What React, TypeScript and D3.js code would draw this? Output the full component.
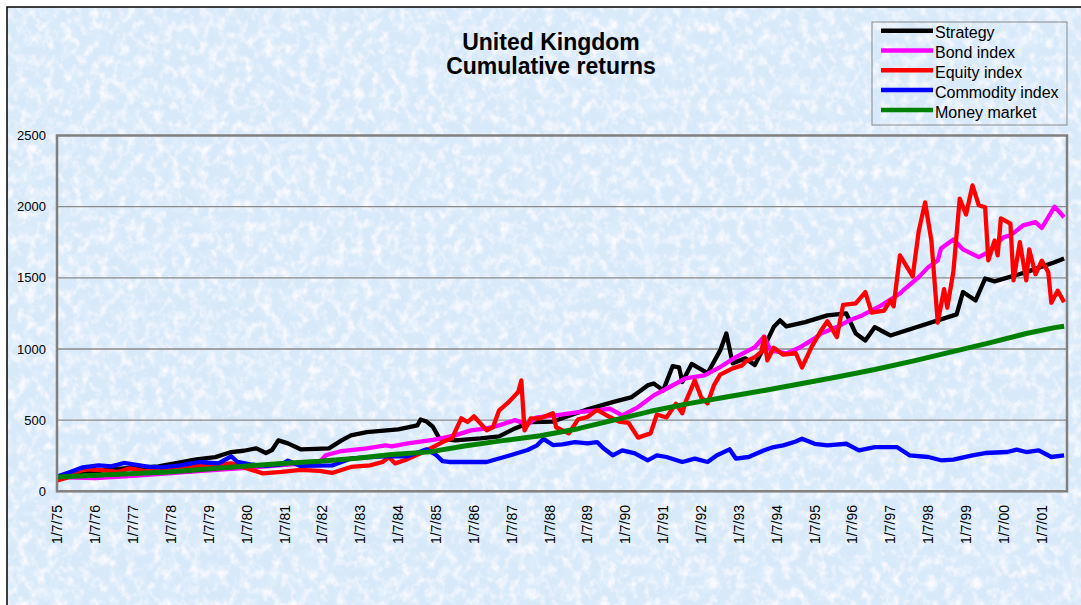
import React, { useEffect, useRef } from 'react';
import * as d3 from 'd3';

// values (month, cumulative value)
const strategy: [string, number][] = [
  ["1975-07", 100], ["1976-03", 120], ["1976-11", 154], ["1977-07", 165], ["1978-03", 175], ["1978-09", 200],
  ["1979-03", 225], ["1979-09", 240], ["1980-02", 276], ["1980-06", 285], ["1980-10", 302], ["1981-01", 269],
  ["1981-03", 290], ["1981-05", 358], ["1981-08", 337], ["1981-12", 295], ["1982-05", 298], ["1982-09", 302],
  ["1983-01", 358], ["1983-04", 393], ["1983-09", 416], ["1984-07", 435], ["1985-01", 463], ["1985-02", 505],
  ["1985-04", 490], ["1985-06", 452], ["1985-08", 372], ["1986-01", 358], ["1986-09", 372], ["1987-03", 386],
  ["1987-08", 442], ["1988-01", 487], ["1988-08", 490], ["1989-07", 576], ["1990-03", 627], ["1990-09", 662],
  ["1991-02", 744], ["1991-04", 758], ["1991-07", 709], ["1991-10", 880], ["1991-12", 871], ["1992-01", 768],
  ["1992-04", 895], ["1992-09", 830], ["1993-01", 990], ["1993-03", 1109], ["1993-05", 899], ["1993-09", 934],
  ["1993-12", 887], ["1994-03", 1013], ["1994-06", 1154], ["1994-08", 1201], ["1994-10", 1159], ["1995-04", 1189],
  ["1995-11", 1236], ["1996-05", 1250], ["1996-08", 1109], ["1996-11", 1060], ["1997-02", 1154], ["1997-04", 1130],
  ["1997-07", 1095], ["1999-04", 1243], ["1999-06", 1400], ["1999-10", 1341], ["2000-01", 1495], ["2000-04", 1475],
  ["2001-02", 1540], ["2001-11", 1610], ["2002-02", 1636],
];

const bondIndex: [string, number][] = [
  ["1975-07", 100], ["1976-07", 92], ["1977-07", 108], ["1978-07", 128], ["1979-07", 148], ["1980-07", 165],
  ["1981-07", 185], ["1982-06", 205], ["1982-08", 253], ["1983-01", 283], ["1983-09", 302], ["1984-03", 323],
  ["1984-05", 316], ["1984-10", 337], ["1985-06", 362], ["1986-01", 393], ["1986-06", 428], ["1986-11", 442],
  ["1987-03", 463], ["1987-08", 500], ["1987-12", 470], ["1988-03", 520], ["1988-09", 534], ["1989-04", 557],
  ["1989-10", 569], ["1990-02", 580], ["1990-06", 534], ["1990-11", 592], ["1991-04", 674], ["1991-09", 733],
  ["1992-02", 793], ["1992-08", 815], ["1993-01", 873], ["1993-06", 943], ["1993-12", 1013], ["1994-03", 1088],
  ["1994-05", 990], ["1994-10", 969], ["1995-02", 1008], ["1995-07", 1074], ["1995-09", 1109], ["1996-02", 1154],
  ["1996-06", 1201], ["1996-10", 1236], ["1997-01", 1271], ["1997-04", 1305], ["1997-10", 1390], ["1997-11", 1411],
  ["1998-04", 1505], ["1998-07", 1575], ["1998-10", 1622], ["1998-11", 1706], ["1999-03", 1770], ["1999-06", 1700],
  ["1999-11", 1645], ["2000-02", 1680], ["2000-04", 1727], ["2000-07", 1786], ["2000-09", 1798], ["2001-01", 1868],
  ["2001-05", 1891], ["2001-07", 1850], ["2001-11", 2000], ["2002-02", 1926],
];

const equityIndex: [string, number][] = [
  ["1975-07", 77], ["1975-10", 95], ["1976-03", 154], ["1976-08", 150], ["1977-02", 136], ["1977-06", 161],
  ["1977-11", 140], ["1978-06", 150], ["1979-03", 176], ["1980-02", 196], ["1980-09", 147], ["1980-12", 126],
  ["1981-06", 136], ["1981-12", 150], ["1982-06", 143], ["1982-10", 129], ["1983-04", 171], ["1983-10", 182],
  ["1984-02", 206], ["1984-04", 241], ["1984-06", 196], ["1984-09", 218], ["1985-03", 276], ["1985-06", 311],
  ["1985-09", 346], ["1985-12", 372], ["1986-03", 513], ["1986-05", 487], ["1986-07", 527], ["1986-11", 428],
  ["1987-01", 450], ["1987-03", 569], ["1987-06", 627], ["1987-09", 697], ["1987-10", 779], ["1987-11", 428],
  ["1988-01", 513], ["1988-04", 513], ["1988-08", 548], ["1988-09", 450], ["1989-01", 407], ["1989-04", 505],
  ["1989-07", 522], ["1989-10", 572], ["1990-02", 522], ["1990-05", 490], ["1990-08", 480], ["1990-11", 377],
  ["1991-03", 407], ["1991-05", 540], ["1991-08", 518], ["1991-11", 615], ["1992-01", 548], ["1992-02", 627],
  ["1992-05", 779], ["1992-07", 660], ["1992-09", 618], ["1992-11", 744], ["1993-01", 820], ["1993-05", 864],
  ["1993-08", 885], ["1993-09", 910], ["1993-12", 943], ["1994-02", 980], ["1994-03", 1083], ["1994-04", 920],
  ["1994-06", 1008], ["1994-09", 960], ["1995-01", 970], ["1995-03", 870], ["1995-06", 1013], ["1995-09", 1130],
  ["1995-11", 1195], ["1996-02", 1083], ["1996-04", 1310], ["1996-08", 1320], ["1996-11", 1400], ["1997-01", 1255],
  ["1997-05", 1270], ["1997-07", 1341], ["1997-08", 1300], ["1997-10", 1657], ["1998-02", 1510], ["1998-04", 1830],
  ["1998-06", 2030], ["1998-08", 1760], ["1998-10", 1185], ["1998-12", 1420], ["1999-01", 1290], ["1999-03", 1545],
  ["1999-05", 2057], ["1999-07", 1945], ["1999-09", 2149], ["1999-11", 2010], ["2000-01", 1996], ["2000-02", 1622],
  ["2000-04", 1762], ["2000-05", 1658], ["2000-06", 1917], ["2000-09", 1880], ["2000-10", 1482], ["2000-12", 1750],
  ["2001-02", 1482], ["2001-03", 1700], ["2001-05", 1525], ["2001-07", 1620], ["2001-09", 1540], ["2001-10", 1325],
  ["2001-12", 1410], ["2002-02", 1329],
];

const commodityIndex: [string, number][] = [
  ["1975-07", 105], ["1975-11", 136], ["1976-03", 168], ["1976-08", 182], ["1976-12", 175], ["1977-04", 199],
  ["1977-09", 182], ["1977-12", 171], ["1978-04", 168], ["1978-10", 182], ["1979-04", 206], ["1979-10", 196],
  ["1980-02", 246], ["1980-04", 206], ["1980-08", 189], ["1981-01", 178], ["1981-06", 189], ["1981-08", 215],
  ["1981-12", 178], ["1982-10", 182], ["1983-04", 231], ["1984-02", 246], ["1984-10", 246], ["1985-04", 295],
  ["1985-07", 255], ["1985-09", 212], ["1985-11", 206], ["1986-11", 206], ["1987-06", 250], ["1987-12", 290],
  ["1988-03", 323], ["1988-05", 368], ["1988-08", 325], ["1988-11", 330], ["1989-03", 346], ["1989-07", 337],
  ["1989-10", 346], ["1989-12", 302], ["1990-03", 253], ["1990-06", 288], ["1990-10", 267], ["1991-02", 218],
  ["1991-05", 253], ["1991-08", 241], ["1992-01", 206], ["1992-05", 230], ["1992-09", 206], ["1992-12", 253],
  ["1993-04", 295], ["1993-06", 230], ["1993-10", 241], ["1994-03", 288], ["1994-06", 311], ["1994-09", 323],
  ["1995-01", 350], ["1995-03", 370], ["1995-07", 334], ["1995-11", 323], ["1996-05", 334], ["1996-09", 288],
  ["1997-02", 311], ["1997-09", 311], ["1998-01", 253], ["1998-07", 241], ["1998-11", 218], ["1999-03", 222],
  ["1999-09", 253], ["2000-01", 269], ["2000-08", 276], ["2000-11", 293], ["2001-02", 276], ["2001-06", 288],
  ["2001-10", 241], ["2002-02", 253],
];

const moneyMarket: [string, number][] = [
  ["1975-07", 100], ["1978-06", 136], ["1980-06", 176], ["1981-06", 196], ["1982-06", 211], ["1983-06", 232],
  ["1984-05", 258], ["1985-05", 277], ["1986-04", 318], ["1987-04", 356], ["1988-04", 390], ["1989-04", 440],
  ["1990-03", 498], ["1991-03", 562], ["1992-03", 616], ["1993-03", 662], ["1994-03", 708], ["1995-03", 757],
  ["1996-02", 803], ["1997-02", 856], ["1998-02", 915], ["1999-02", 978], ["2000-02", 1041], ["2001-02", 1109],
  ["2001-11", 1150], ["2002-02", 1160],
];

const seriesNames = ["Strategy", "Bond index", "Equity index", "Commodity index", "Money market"];
const seriesColors = ["#000000", "#ff00ff", "#ff0000", "#0000ff", "#008000"];
const yTicks = [0, 500, 1000, 1500, 2000, 2500];
const xTickLabels = [
  "1/7/75", "1/7/76", "1/7/77", "1/7/78", "1/7/79", "1/7/80", "1/7/81", "1/7/82", "1/7/83",
  "1/7/84", "1/7/85", "1/7/86", "1/7/87", "1/7/88", "1/7/89", "1/7/90", "1/7/91", "1/7/92",
  "1/7/93", "1/7/94", "1/7/95", "1/7/96", "1/7/97", "1/7/98", "1/7/99", "1/7/00", "1/7/01",
];

const FONT = "'Liberation Sans', Arial, Helvetica, sans-serif";

export default function App() {
  const svgRef = useRef<SVGSVGElement>(null);

  useEffect(() => {
    document.body.style.margin = "0";
    const W = 1081, H = 605;
    const plot = { left: 57, top: 135.5, right: 1067, bottom: 491.3 };

    const svg = d3.select(svgRef.current);
    svg.selectAll("*").remove();

    const parseMonth = d3.timeParse("%Y-%m");
    const parseTick = d3.timeParse("%d/%m/%y");

    // tissue-paper texture: fine light fibres over a pale blue ground
    const defs = svg.append("defs");
    const f1 = defs.append("filter").attr("id", "mottle").attr("x", 0).attr("y", 0).attr("width", 1).attr("height", 1);
    f1.append("feTurbulence").attr("type", "fractalNoise").attr("baseFrequency", "0.11 0.09")
      .attr("numOctaves", 3).attr("seed", 7);
    f1.append("feColorMatrix").attr("type", "matrix")
      .attr("values", "0 0 0 0 0.96  0 0 0 0 0.96  0 0 0 0 1  2.6 0 0 0 -1.15");
    const f2 = defs.append("filter").attr("id", "mottle2").attr("x", 0).attr("y", 0).attr("width", 1).attr("height", 1);
    f2.append("feTurbulence").attr("type", "fractalNoise").attr("baseFrequency", "0.05 0.06")
      .attr("numOctaves", 3).attr("seed", 21);
    f2.append("feColorMatrix").attr("type", "matrix")
      .attr("values", "0 0 0 0 0.74  0 0 0 0 0.86  0 0 0 0 0.97  0 2.4 0 0 -1.15");

    svg.append("rect").attr("width", W).attr("height", H).attr("fill", "#ffffff");
    svg.append("rect").attr("x", 7).attr("y", 7).attr("width", W).attr("height", H).attr("fill", "#d8e9f9");
    svg.append("rect").attr("x", 7).attr("y", 7).attr("width", W).attr("height", H).attr("filter", "url(#mottle2)");
    svg.append("rect").attr("x", 7).attr("y", 7).attr("width", W).attr("height", H).attr("filter", "url(#mottle)");
    svg.append("rect").attr("x", 7).attr("y", 7).attr("width", W).attr("height", H)
      .attr("fill", "none").attr("stroke", "#000").attr("stroke-width", 1.5);

    const x = d3.scaleTime()
      .domain([new Date(1975, 6, 1), new Date(2002, 2, 1)])
      .range([57.5, plot.right]);
    const y = d3.scaleLinear().domain([0, 2500]).range([plot.bottom, plot.top]);

    // gridlines
    svg.append("g").selectAll("line").data(yTicks.filter(v => v > 0 && v < 2500)).enter().append("line")
      .attr("x1", plot.left).attr("x2", plot.right)
      .attr("y1", d => y(d)).attr("y2", d => y(d))
      .attr("stroke", "#8a8a8a").attr("stroke-width", 1.3);

    // y labels
    svg.append("g").selectAll("text").data(yTicks).enter().append("text")
      .attr("x", 46).attr("y", d => y(d)).attr("dy", "0.35em")
      .attr("text-anchor", "end").attr("font-family", FONT).attr("font-size", 13)
      .text(d => d3.format("d")(d));

    // x labels
    svg.append("g").selectAll("text").data(xTickLabels).enter().append("text")
      .attr("transform", d => `translate(${x(parseTick(d)!)},505) rotate(-90)`)
      .attr("dy", "0.35em").attr("text-anchor", "end")
      .attr("font-family", FONT).attr("font-size", 14)
      .text(d => d);

    // series
    const all = [strategy, bondIndex, equityIndex, commodityIndex, moneyMarket];
    const line = d3.line<[string, number]>()
      .x(d => x(parseMonth(d[0])!))
      .y(d => y(d[1]));

    const clip = defs.append("clipPath").attr("id", "plotclip");
    clip.append("rect").attr("x", plot.left).attr("y", plot.top)
      .attr("width", plot.right - plot.left).attr("height", plot.bottom - plot.top);

    svg.append("g").attr("clip-path", "url(#plotclip)")
      .selectAll("path").data(all).enter().append("path")
      .attr("d", d => line(d))
      .attr("fill", "none")
      .attr("stroke", (_, i) => seriesColors[i])
      .attr("stroke-width", (_, i) => (i === 4 ? 5 : 4.3))
      .attr("stroke-linejoin", "round");

    // plot border
    svg.append("rect").attr("x", plot.left).attr("y", plot.top)
      .attr("width", plot.right - plot.left).attr("height", plot.bottom - plot.top)
      .attr("fill", "none").attr("stroke", "#808080").attr("stroke-width", 2.5);

    // title
    const title = svg.append("text").attr("text-anchor", "middle")
      .attr("font-family", FONT).attr("font-size", 23).attr("font-weight", "bold");
    title.append("tspan").attr("x", 551).attr("y", 50).text("United Kingdom");
    title.append("tspan").attr("x", 551).attr("y", 74).text("Cumulative returns");

    // legend
    const lg = svg.append("g");
    lg.append("rect").attr("x", 872).attr("y", 22).attr("width", 195).attr("height", 103)
      .attr("fill", "none").attr("stroke", "#8a8a8a").attr("stroke-width", 1);
    const rows = lg.selectAll("g.row").data(seriesNames).enter().append("g")
      .attr("transform", (_, i) => `translate(0,${30.7 + i * 19.8})`);
    rows.append("line").attr("x1", 881).attr("x2", 933).attr("y1", 0).attr("y2", 0)
      .attr("stroke", (_, i) => seriesColors[i]).attr("stroke-width", 4.5);
    rows.append("text").attr("x", 935).attr("y", 7.6)
      .attr("font-family", FONT).attr("font-size", 16)
      .text(d => d);
  }, []);

  return <svg ref={svgRef} width={1081} height={605} style={{ display: 'block' }} />;
}
